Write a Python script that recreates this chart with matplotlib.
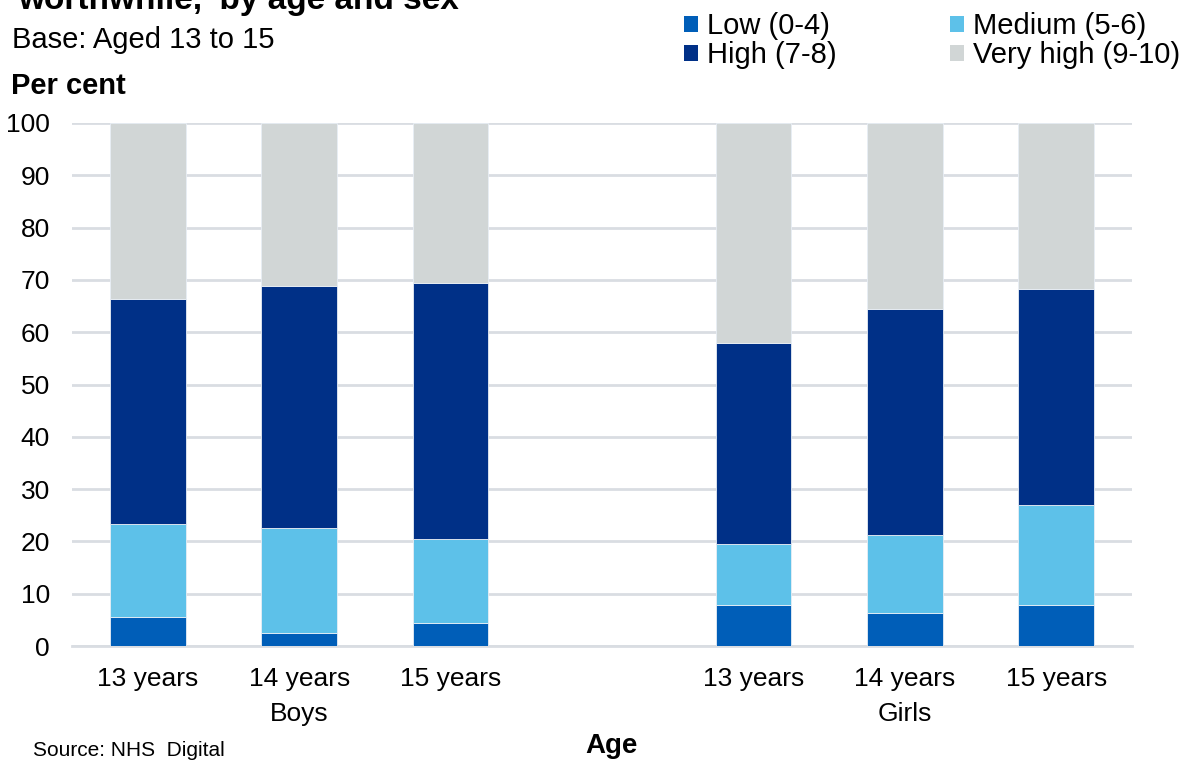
import matplotlib
matplotlib.use("Agg")
import matplotlib.pyplot as plt
from matplotlib.patches import Patch
import numpy as np

plt.rcParams['font.family'] = ['Liberation Sans', 'DejaVu Sans']

ages = ["13 years", "14 years", "15 years", "13 years", "14 years", "15 years"]
groups = ["Boys", "Girls"]
low = [5.5, 2.5, 4.4, 7.8, 6.3, 7.8]
medium = [17.8, 20.1, 16.1, 11.7, 14.9, 19.2]
high = [43.0, 46.2, 48.9, 38.4, 43.2, 41.3]
very_high = [33.7, 31.2, 30.6, 42.1, 35.6, 31.7]

series = [("Low (0-4)", low, "#005EB8"),
          ("Medium (5-6)", medium, "#5DC1E9"),
          ("High (7-8)", high, "#003087"),
          ("Very high (9-10)", very_high, "#D1D6D6")]

# boys in slots 0-2, empty slot 3, girls in slots 4-6
xpos = np.array([0, 1, 2, 4, 5, 6])

fig = plt.figure(figsize=(11.92, 7.64), dpi=100)
ax = fig.add_axes([72/1192, 1-646/764, (1132-72)/1192, (646-123)/764])

bottom = np.zeros(len(xpos))
handles = {}
for name, vals, col in series:
    ax.bar(xpos, vals, width=0.5, bottom=bottom, color=col,
           edgecolor="#e8eef5", linewidth=0.6, zorder=3)
    handles[name] = Patch(facecolor=col, edgecolor='none')
    bottom += np.array(vals)

ax.set_xlim(-0.5, 6.5)
ax.set_ylim(0, 100)
ax.set_yticks(range(0, 101, 10))
ax.yaxis.grid(True, color="#d9dde2", linewidth=2, zorder=0)
ax.set_axisbelow(True)
for s in ["top", "right", "left"]:
    ax.spines[s].set_visible(False)
ax.spines["bottom"].set_color("#d9dde2")
ax.spines["bottom"].set_linewidth(2)
ax.tick_params(axis="y", length=0, pad=16, labelsize=19)
ax.tick_params(axis="x", length=0, pad=15, labelsize=19)
ax.set_xticks(xpos)
ax.set_xticklabels(ages)

# group labels under the middle bar of each group
for g, centre in zip(groups, [1, 5]):
    ax.text(centre, -13, g, ha="center", va="center", fontsize=19)

order = ["Low (0-4)", "High (7-8)", "Medium (5-6)", "Very high (9-10)"]
fig.legend([handles[k] for k in order], order, ncol=2, loc="upper left",
           bbox_to_anchor=(684/1192, 1 - 12/764), frameon=False, fontsize=21,
           handlelength=0.48, handleheight=0.48, handletextpad=0.3,
           columnspacing=3.9, labelspacing=0.05, borderpad=0, borderaxespad=0)

fig.text(18/1192, 1-9/764, "worthwhile,' by age and sex", fontsize=24,
         fontweight="bold", va="baseline", ha="left")
fig.text(12/1192, 1-40/764, "Base: Aged 13 to 15", fontsize=21, va="center", ha="left")
fig.text(11/1192, 1-86/764, "Per cent", fontsize=21, fontweight="bold", va="center", ha="left")
fig.text(611/1192, 1-746/764, "Age", fontsize=20, fontweight="bold", va="center", ha="center")
fig.text(33/1192, 1-751/764, "Source: NHS  Digital", fontsize=15, va="center", ha="left")

fig.savefig("out.png", dpi=100, facecolor="white")
